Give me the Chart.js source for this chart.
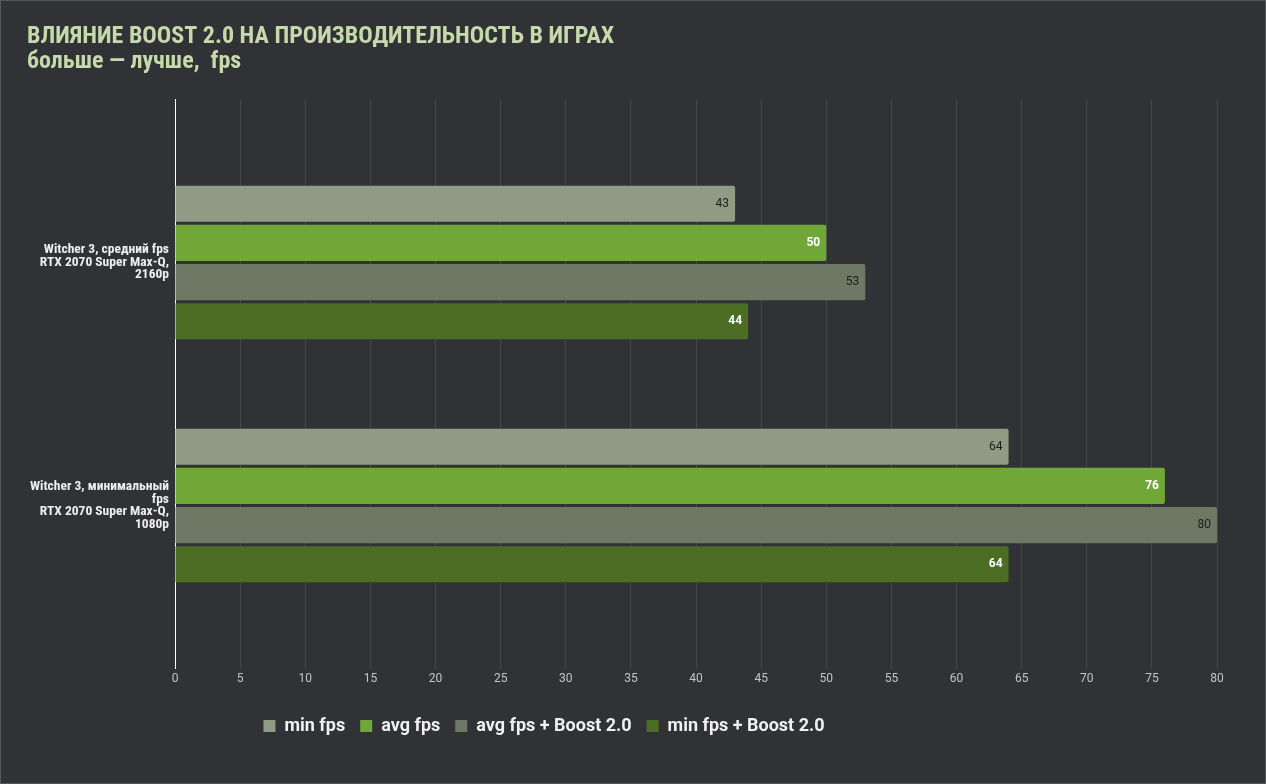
<!DOCTYPE html>
<html>
<head>
<meta charset="utf-8">
<script src="https://cdn.jsdelivr.net/npm/chart.js@4.4.1/dist/chart.umd.min.js"></script>
<style>
  html, body { margin: 0; padding: 0; background: #313236; }
  #wrap { width: 1266px; height: 784px; box-sizing: border-box; border: 1px solid #56575b; }
  #chart { display: block; }
</style>
</head>
<body>
<div id="wrap"><canvas id="chart" width="1264" height="782"></canvas></div>
<script>
const categories = [
  ['Witcher 3, средний fps', 'RTX 2070 Super Max-Q,', '2160p'],
  ['Witcher 3, минимальный', 'fps', 'RTX 2070 Super Max-Q,', '1080p']
];
const seriesNames = ['min fps', 'avg fps', 'avg fps + Boost 2.0', 'min fps + Boost 2.0'];
const minFps = [43, 64];
const avgFps = [50, 76];
const avgFpsBoost = [53, 80];
const minFpsBoost = [44, 64];
const xMax = 80;
const xStep = 5;

const condensed = "'Roboto Condensed', 'Liberation Sans Narrow', 'DejaVu Sans Condensed', Roboto, sans-serif";

const barColors = ['#8f9b84', '#70a737', '#6d7865', '#4b6e24'];
const valueColors = ['#1e1e1e', '#ffffff', '#1e1e1e', '#ffffff'];
const valueWeights = ['normal', 'bold', 'normal', 'bold'];

const toPoints = arr => arr.map((v, i) => ({ x: v, y: i }));

const valueLabels = {
  id: 'valueLabels',
  afterDatasetsDraw(chart) {
    const ctx = chart.ctx;
    chart.data.datasets.forEach((ds, di) => {
      const meta = chart.getDatasetMeta(di);
      ctx.save();
      ctx.font = valueWeights[di] + ' 12px Roboto';
      ctx.fillStyle = valueColors[di];
      ctx.textAlign = 'right';
      ctx.textBaseline = 'middle';
      meta.data.forEach((bar, i) => {
        ctx.fillText(ds.data[i].x, bar.x - 6, bar.y);
      });
      ctx.restore();
    });
  }
};

// legend in the original sits left of the canvas centre
const legendShift = {
  id: 'legendShift',
  afterLayout(chart) {
    chart.legend.left -= 78;
    chart.legend.right -= 78;
  }
};

new Chart(document.getElementById('chart'), {
  type: 'bar',
  data: {
    datasets: [minFps, avgFps, avgFpsBoost, minFpsBoost].map((d, i) => ({
      label: seriesNames[i],
      data: toPoints(d),
      backgroundColor: barColors[i],
      borderWidth: 0,
      borderRadius: 2,
      borderSkipped: 'start',
      barPercentage: 0.923,
      categoryPercentage: 0.645
    }))
  },
  plugins: [valueLabels, legendShift],
  options: {
    indexAxis: 'y',
    responsive: false,
    animation: false,
    layout: { padding: { left: 26, right: 48, top: 0, bottom: 38 } },
    scales: {
      x: {
        min: 0,
        max: xMax,
        ticks: { stepSize: xStep, color: '#c4c4c4', font: { family: 'Roboto', size: 12 }, padding: 3 },
        grid: { color: '#46474b', drawTicks: false },
        border: { display: false },
        afterFit: s => { s.height += 13; }
      },
      y: {
        type: 'linear',
        reverse: true,
        offset: false,
        min: -0.6715,
        max: 1.6715,
        afterBuildTicks: s => { s.ticks = categories.map((c, i) => ({ value: i })); },
        afterFit: s => { s.width = 148; },
        ticks: {
          callback: v => categories[v],
          color: '#eeeeee',
          font: { family: condensed, size: 13.5, weight: 'bold', lineHeight: 0.93 },
          padding: 6,
          autoSkip: false
        },
        grid: { display: false, drawTicks: false },
        border: { color: '#ffffff', width: 1 }
      }
    },
    plugins: {
      title: {
        display: true,
        text: 'ВЛИЯНИЕ BOOST 2.0 НА ПРОИЗВОДИТЕЛЬНОСТЬ В ИГРАХ',
        align: 'start',
        color: '#c6d9ab',
        font: { family: condensed, size: 24, weight: 'bold', lineHeight: 1.1 },
        padding: { top: 23, bottom: 0 }
      },
      subtitle: {
        display: true,
        text: 'больше — лучше,  fps',
        align: 'start',
        color: '#c6d9ab',
        font: { family: condensed, size: 24, weight: 'bold', lineHeight: 1.0 },
        padding: { top: 0, bottom: 25 }
      },
      legend: {
        position: 'bottom',
        labels: {
          color: '#f0f0f0',
          font: { family: 'Roboto', size: 18, weight: 'bold' },
          boxWidth: 12,
          boxHeight: 12,
          padding: 15
        }
      },
      tooltip: { enabled: false }
    }
  }
});
</script>
</body>
</html>
